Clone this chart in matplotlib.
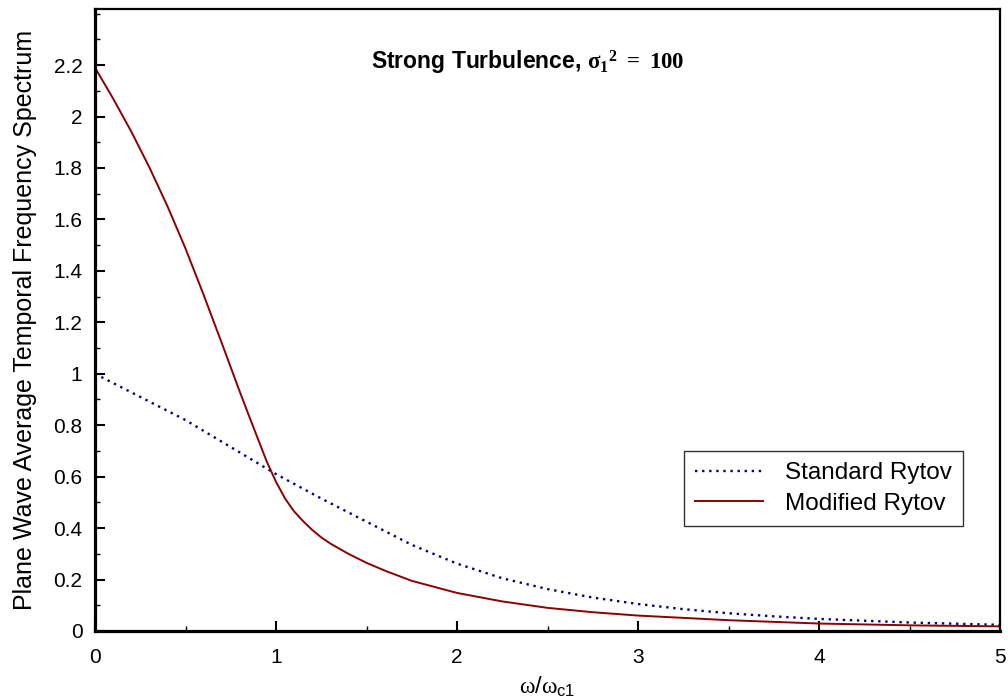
import matplotlib
matplotlib.use('Agg')
import matplotlib.pyplot as plt
from matplotlib.ticker import MultipleLocator

plt.rcParams['font.family'] = ['Liberation Sans', 'DejaVu Sans']
plt.rcParams['mathtext.fontset'] = 'custom'
plt.rcParams['mathtext.rm'] = 'Liberation Sans'
plt.rcParams['mathtext.it'] = 'Liberation Serif'
plt.rcParams['mathtext.bf'] = 'Liberation Serif:bold'
plt.rcParams['xtick.direction'] = 'in'
plt.rcParams['ytick.direction'] = 'in'

# frequency ratio omega / omega_c1
x_std = [0, 0.25, 0.5, 0.75, 1.0, 1.25, 1.5, 1.75, 2.0, 2.25, 2.5, 2.75, 3.0,
         3.25, 3.5, 3.75, 4.0, 4.5, 5.0]
standard_rytov = [1.0, 0.91, 0.82, 0.715, 0.61, 0.515, 0.425, 0.335, 0.262,
                  0.205, 0.163, 0.13, 0.105, 0.085, 0.069, 0.057, 0.047,
                  0.033, 0.024]

x_mod = [0, 0.1, 0.2, 0.3, 0.4, 0.5, 0.6, 0.7, 0.8, 0.85, 0.9, 0.95, 1.0,
         1.05, 1.1, 1.15, 1.2, 1.25, 1.3, 1.4, 1.5, 1.6, 1.75, 2.0, 2.25, 2.5,
         2.75, 3.0, 3.5, 4.0, 4.5, 5.0]
modified_rytov = [2.19, 2.07, 1.942, 1.803, 1.652, 1.487, 1.307, 1.12, 0.93,
                  0.838, 0.747, 0.657, 0.58, 0.515, 0.465, 0.427, 0.393,
                  0.364, 0.34, 0.30, 0.265, 0.235, 0.195, 0.148, 0.115, 0.09,
                  0.073, 0.06, 0.042, 0.029, 0.022, 0.018]

fig = plt.figure(figsize=(10.08, 6.98), dpi=100)
ax = fig.add_axes([95 / 1008, 1 - 631 / 698, 905 / 1008, 622 / 698])

ax.plot(x_std, standard_rytov, color='#000080', linewidth=1.7,
        linestyle=(0, (1, 2.0)), label='Standard Rytov')
ax.plot(x_mod, modified_rytov, color='#8b0000', linewidth=1.4,
        label='Modified Rytov')

ax.set_xlim(0, 5)
ax.set_ylim(0, 2.418)
ax.set_xticks([0, 1, 2, 3, 4, 5])
ax.set_yticks([0, 0.2, 0.4, 0.6, 0.8, 1, 1.2, 1.4, 1.6, 1.8, 2, 2.2])
ax.set_yticklabels(['0', '0.2', '0.4', '0.6', '0.8', '1', '1.2', '1.4',
                    '1.6', '1.8', '2', '2.2'])
ax.xaxis.set_minor_locator(MultipleLocator(0.5))
ax.yaxis.set_minor_locator(MultipleLocator(0.1))
ax.tick_params(which='major', length=7, width=1.5, labelsize=15)
ax.tick_params(which='minor', length=3.6, width=1)
ax.tick_params(axis='x', which='major', pad=12)
ax.tick_params(axis='y', which='major', pad=9)

for side in ['left', 'bottom']:
    ax.spines[side].set_linewidth(2.3)
for side in ['top', 'right']:
    ax.spines[side].set_linewidth(1.6)

ax.set_xlabel(r'$\omega/\omega_{\mathrm{c1}}$', fontsize=17, labelpad=6)
ax.set_ylabel('Plane Wave Average Temporal Frequency Spectrum', fontsize=18,
              labelpad=12)

ax.text(2.39, 2.21,
        r'Strong Turbulence, $\mathbf{\sigma_1}^{\mathbf{2}}\mathbf{\ =\ 100}$',
        fontsize=16.5, fontweight='bold', ha='center', va='center')

leg = ax.legend(loc='lower right', bbox_to_anchor=(0.959, 0.169),
                borderaxespad=0, fontsize=17.5, frameon=True, fancybox=False,
                edgecolor='black', handlelength=2.8, handletextpad=0.9,
                borderpad=0.45, labelspacing=0.35)
leg.get_frame().set_linewidth(1.0)

fig.savefig('out.png', dpi=100)
